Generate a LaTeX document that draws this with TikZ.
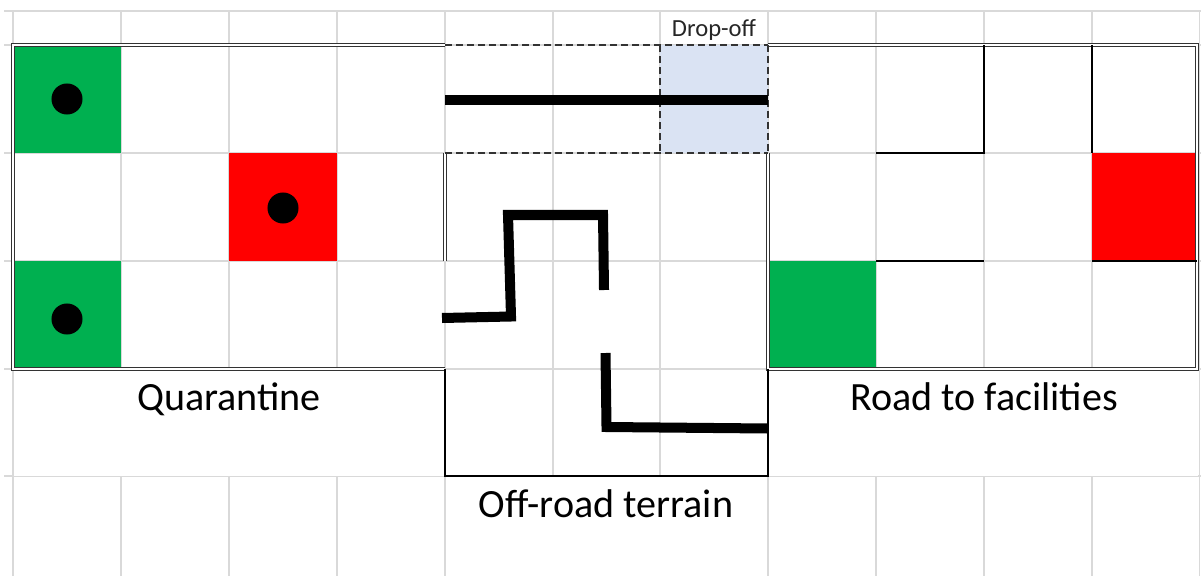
\documentclass[tikz,border=0pt]{standalone}
\usepackage{fontspec}
\setmainfont{Carlito}
\definecolor{gridgray}{HTML}{D9D9D9}
\definecolor{cellgreen}{HTML}{00B050}
\definecolor{cellred}{HTML}{FF0000}
\definecolor{dropblue}{HTML}{DAE3F3}
\definecolor{edgegray}{HTML}{333333}
\tikzset{
  gridline/.style={draw=gridgray, line width=0.3pt},
  zoneborder/.style={draw=edgegray, line width=0.4pt, double=white, double distance=0.6pt},
  dashborder/.style={draw=edgegray, line width=0.4pt, dash pattern=on 0.07cm off 0.04cm},
  plainborder/.style={draw=black, line width=0.45pt},
  wall/.style={draw=black, line width=0.6pt},
  route/.style={draw=black, line width=0.1cm, line join=miter},
  token/.style={circle, fill=black, inner sep=0pt, minimum size=0.31cm},
  zonelabel/.style={font=\fontsize{11.4pt}{13pt}\selectfont, anchor=base, inner sep=0pt},
  smalllabel/.style={font=\fontsize{7pt}{8pt}\selectfont, anchor=base, inner sep=0pt, text=black!85}
}
\begin{document}
\begin{tikzpicture}[x=0.01cm, y=-0.01cm]
\useasboundingbox (0,0) rectangle (1201,576);

% spreadsheet grid
\foreach \gx in {13,121,229,337,445,553,660,768,876,984,1092,1199}
  \draw[gridline] (\gx,11) -- (\gx,576);
\foreach \gy in {11,45,153,261,369,476}
  \draw[gridline] (4,\gy) -- (1201,\gy);

% merged label cells hide the grid inside them
\fill[white] (14,370) rectangle (444,475.5);
\fill[white] (769,370) rectangle (1198,475.5);
\fill[white] (446,477) rectangle (767,576);

% coloured cells
\fill[cellgreen] (13,45) rectangle (121,153);
\fill[cellgreen] (13,261) rectangle (121,369);
\fill[cellred] (229,153) rectangle (337,261);
\fill[dropblue] (660,45) rectangle (768,153);
\fill[cellred] (1092,153) rectangle (1197,261);
\fill[cellgreen] (768,261) rectangle (876,369);

% quarantine zone border
\draw[zoneborder] (445,45) -- (13,45) -- (13,369) -- (445,369);
\draw[zoneborder] (445,153) -- (445,261);

% road zone border
\draw[zoneborder] (768,45) -- (1197,45) -- (1197,369) -- (768,369) -- (768,153);

% drop-off row
\draw[dashborder] (445,45) -- (768,45);
\draw[dashborder] (445,153) -- (768,153);
\draw[dashborder] (660,45) -- (660,153);
\draw[dashborder] (768,45) -- (768,153);

% off-road terrain border
\draw[plainborder] (445,369) -- (445,476) -- (768,476) -- (768,369);

% walls along the road
\draw[wall] (984,45) -- (984,153) -- (876,153);
\draw[wall] (1092,45) -- (1092,153);
\draw[wall] (1092,261) -- (1197,261);
\draw[wall] (876,261) -- (984,261);

% routes
\draw[route] (445,100) -- (768,100);
\draw[route] (442,318) -- (511,316.5) -- (508,215) -- (603,215) -- (604,290);
\draw[route] (605.5,353) -- (606.5,427) -- (768,428.5);

% tokens
\node[token] (q1) at (67,99) {};
\node[token] (q2) at (283,208) {};
\node[token] (q3) at (67,319) {};

% labels
\node[zonelabel] (quarantine) at (229,410) {Quarantine};
\node[zonelabel] (road) at (984,410) {Road to facilities};
\node[zonelabel] (offroad) at (606,517) {Off-road terrain};
\node[smalllabel] (dropoff) at (714,37) {Drop-off};
\end{tikzpicture}
\end{document}
